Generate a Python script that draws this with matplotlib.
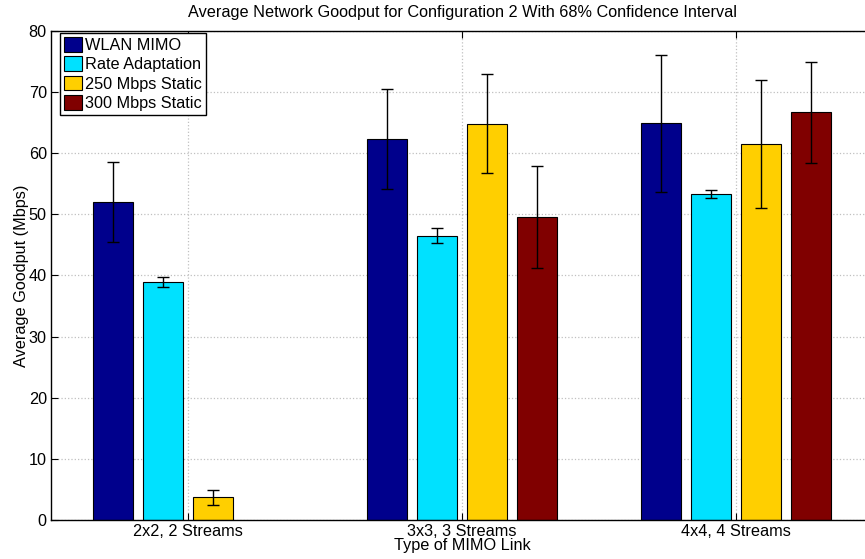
import numpy as np
import matplotlib
matplotlib.use('Agg')
import matplotlib.pyplot as plt

plt.rcParams['font.family'] = ['Liberation Sans', 'DejaVu Sans']

groups = ['2x2, 2 Streams', '3x3, 3 Streams', '4x4, 4 Streams']
series = ['WLAN MIMO', 'Rate Adaptation', '250 Mbps Static', '300 Mbps Static']
colors = ['#00008C', '#00E1FF', '#FFCF00', '#800000']

wlan = [52.0, 62.3, 64.9]
rate = [38.9, 46.5, 53.3]
static250 = [3.7, 64.8, 61.5]
static300 = [np.nan, 49.6, 66.7]

wlan_err = [6.5, 8.15, 11.2]
rate_err = [0.85, 1.2, 0.65]
static250_err = [1.25, 8.1, 10.5]
static300_err = [np.nan, 8.35, 8.25]

values = [wlan, rate, static250, static300]
errors = [wlan_err, rate_err, static250_err, static300_err]

fig = plt.figure(figsize=(8.65, 5.59), dpi=100)
ax = fig.add_axes([0.059, 0.0698, 0.9503, 0.8748])

x = np.arange(1, len(groups) + 1)
step = 0.1814
width = 0.146
for i, (vals, errs) in enumerate(zip(values, errors)):
    pos = x + (i - 1.5) * step
    ax.bar(pos, vals, width, color=colors[i], edgecolor='black',
           linewidth=0.8, label=series[i], zorder=2)
    ax.errorbar(pos, vals, yerr=errs, fmt='none', ecolor='black',
                elinewidth=1, capsize=4, capthick=1, zorder=3)

ax.set_xlim(0.5, 3.5)
ax.set_ylim(0, 80)
ax.set_yticks(range(0, 81, 10))
ax.set_xticks(x)
ax.set_xticklabels(groups)
ax.tick_params(direction='in', length=5, top=True, right=True,
               labelsize=11.7, pad=3)
ax.grid(True, linestyle=':', color='#c0c0c0', linewidth=0.9, zorder=0)
ax.set_axisbelow(True)
for s in ax.spines.values():
    s.set_linewidth(1.0)

ax.set_title('Average Network Goodput for Configuration 2 With 68% Confidence Interval',
             fontsize=11.7, pad=10)
ax.set_xlabel('Type of MIMO Link', fontsize=11.7, labelpad=-1)
ax.set_ylabel('Average Goodput (Mbps)', fontsize=11.7, labelpad=0)

leg = ax.legend(loc='upper left', bbox_to_anchor=(0.011, 0.996), borderaxespad=0,
                fontsize=11.7, fancybox=False, edgecolor='black', framealpha=1,
                handlelength=1.1, handleheight=1.0, handletextpad=0.2,
                labelspacing=0.22, borderpad=0.25)
leg.get_frame().set_linewidth(1.0)

fig.savefig('out.png', dpi=100)
